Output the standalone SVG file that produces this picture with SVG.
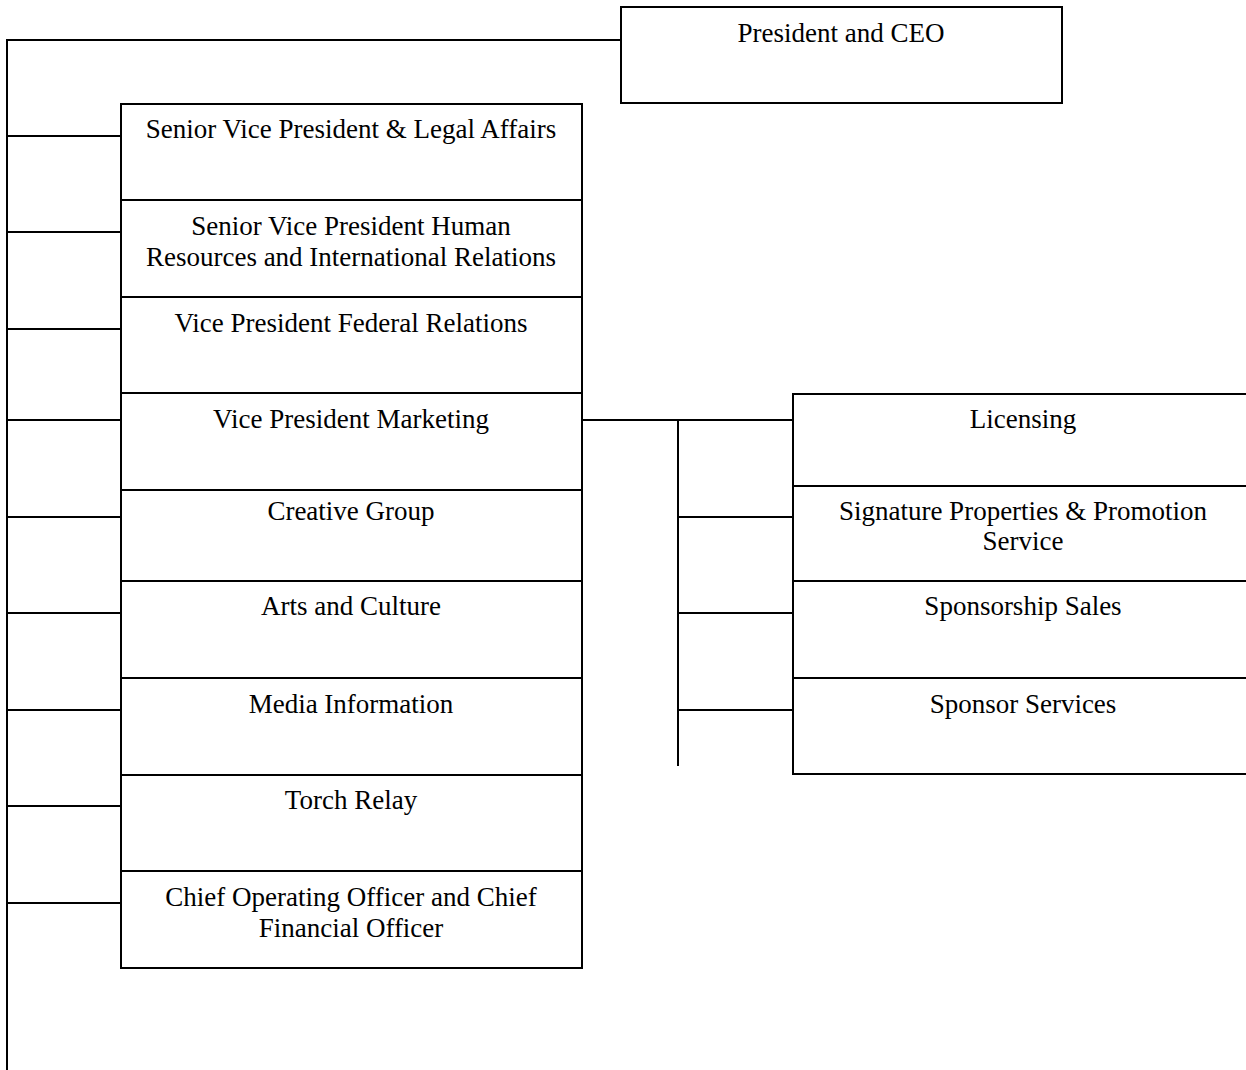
<svg xmlns="http://www.w3.org/2000/svg" width="1246" height="1070" viewBox="0 0 1246 1070">
<style>
.box{fill:#fff;stroke:#000;stroke-width:2}
.c{fill:none;stroke:#000;stroke-width:2}
text{font-family:"Liberation Serif","Times New Roman",serif;font-size:27px;fill:#000;text-anchor:middle}
</style>
<rect width="1246" height="1070" fill="#fff"/>
<g id="connectors">
<path class="c" d="M7,1070 V40 H621"/>
<path class="c" d="M7,136 H121 M7,232 H121 M7,329 H121 M7,420 H121 M7,517 H121 M7,613 H121 M7,710 H121 M7,806 H121 M7,903 H121"/>
<path class="c" d="M582,420 H793 M678,420 V766 M678,517 H793 M678,613 H793 M678,710 H793"/>
</g>
<g id="ceo"><rect class="box" x="621" y="7" width="441" height="96"/><text x="841" y="42">President and CEO</text></g>
<g id="svp-legal"><rect class="box" x="121" y="104" width="461" height="96"/><text x="351" y="138">Senior Vice President &amp; Legal Affairs</text></g>
<g id="svp-hr"><rect class="box" x="121" y="200" width="461" height="97"/><text x="351" y="235">Senior Vice President Human</text><text x="351" y="266">Resources and International Relations</text></g>
<g id="vp-federal"><rect class="box" x="121" y="297" width="461" height="96"/><text x="351" y="332">Vice President Federal Relations</text></g>
<g id="vp-marketing"><rect class="box" x="121" y="393" width="461" height="97"/><text x="351" y="428">Vice President Marketing</text></g>
<g id="creative"><rect class="box" x="121" y="490" width="461" height="91"/><text x="351" y="520">Creative Group</text></g>
<g id="arts"><rect class="box" x="121" y="581" width="461" height="97"/><text x="351" y="615">Arts and Culture</text></g>
<g id="media"><rect class="box" x="121" y="678" width="461" height="97"/><text x="351" y="713">Media Information</text></g>
<g id="torch"><rect class="box" x="121" y="775" width="461" height="96"/><text x="351" y="809">Torch Relay</text></g>
<g id="coo"><rect class="box" x="121" y="871" width="461" height="97"/><text x="351" y="906">Chief Operating Officer and Chief</text><text x="351" y="937">Financial Officer</text></g>
<g id="licensing"><rect class="box" x="793" y="394" width="461" height="92"/><text x="1023" y="428">Licensing</text></g>
<g id="signature"><rect class="box" x="793" y="486" width="461" height="95"/><text x="1023" y="520">Signature Properties &amp; Promotion</text><text x="1023" y="550">Service</text></g>
<g id="sponsorship-sales"><rect class="box" x="793" y="581" width="461" height="97"/><text x="1023" y="615">Sponsorship Sales</text></g>
<g id="sponsor-services"><rect class="box" x="793" y="678" width="461" height="96"/><text x="1023" y="713">Sponsor Services</text></g>
</svg>
